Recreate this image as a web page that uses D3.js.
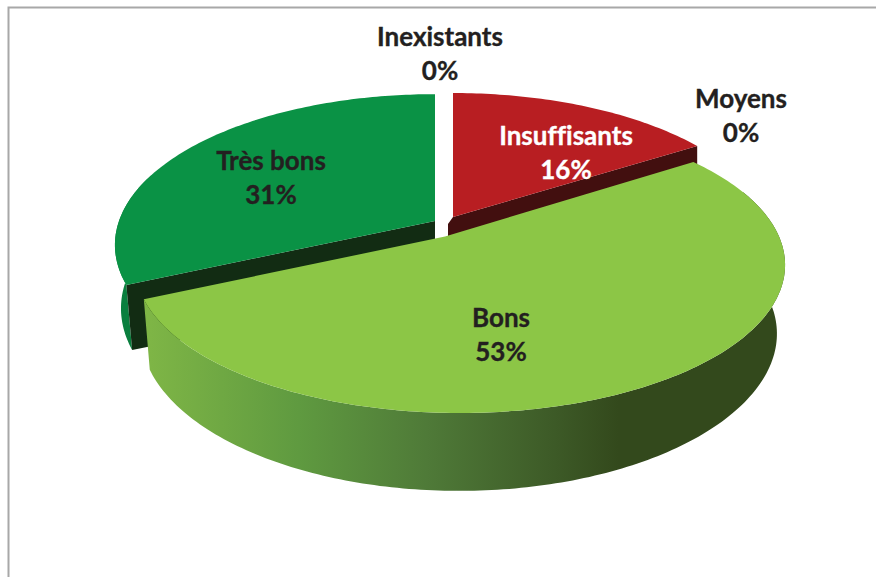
<!DOCTYPE html>
<html>
<head>
<meta charset="utf-8">
<script src="https://cdn.jsdelivr.net/npm/d3@7"></script>
<style>
html,body{margin:0;padding:0;background:#fff;overflow:hidden}
svg{display:block}
text{font-family:Lato,"Open Sans",sans-serif;font-weight:700;font-size:26px;text-anchor:middle;font-variant-ligatures:none;stroke-width:0.35px;paint-order:stroke}
</style>
</head>
<body>
<svg id="chart" width="876" height="577"></svg>
<script>
// Data
const categories = ["Insuffisants", "Moyens", "Bons", "Très bons", "Inexistants"];
const percentages = [16, 0, 53, 31, 0];

// Presentation (separate from the data)
const geometry = {
  "Insuffisants": {ax:453, ay:217,   cx:453, A:314, B:143.8, k:0.16,   warp:0,   D:60, top:"#b81e22", wall:"#420f0f", face:"#420f0f", apexDx:-5},
  "Bons":         {ax:445, ay:236.5, cx:460, A:319, B:142.5, k:0.1925, warp:3.5, D:73.5, top:"#8cc646", wall:"url(#wallGrad)", face:"none", apexDx:0},
  "Très bons":    {ax:435, ay:221,   cx:435, A:316, B:147,   k:0.159,  warp:3.5, D:68, top:"#0a9245", wall:"#0a7f3e", face:"#122c13", apexDx:0}
};
const drawOrder = ["Très bons", "Insuffisants", "Bons"];
const labelPos = {
  "Inexistants":  {x:440, y:46,  fill:"#231f20"},
  "Moyens":       {x:741, y:108, fill:"#231f20"},
  "Insuffisants": {x:566, y:145, fill:"#ffffff"},
  "Très bons":    {x:271, y:170, fill:"#231f20"},
  "Bons":         {x:501, y:327, fill:"#231f20"}
};
const lineGap = 34;

const svg = d3.select("#chart");

// Frame
svg.append("path").attr("d", "M8.5 577V7.5H876").attr("fill", "none")
   .attr("stroke", "#a8a8a8").attr("stroke-width", 2);

// Wall gradient
const grad = svg.append("defs").append("linearGradient").attr("id", "wallGrad")
  .attr("gradientUnits", "userSpaceOnUse").attr("x1", 145).attr("x2", 785).attr("y1", 0).attr("y2", 0);
[[0,"#7fb646"],[0.24,"#5f9a40"],[0.44,"#4f7a38"],[0.64,"#3d5a27"],[0.74,"#33491c"],[1,"#33491c"]]
  .forEach(([o,c]) => grad.append("stop").attr("offset", o).attr("stop-color", c));

const pie = d3.pie().sort(null).value((d, i) => percentages[i]);
const arcs = pie(categories);
const line = d3.line();

function rim(g, theta, lower) {
  const t = theta - g.warp * Math.PI / 180 * Math.sin(2 * theta);
  const u = Math.sin(t), v = Math.cos(t), w = 1 + g.k * v;
  const x = g.cx + (lower ? -1 + 0.978 * g.A * u / w : g.A * u / w);
  const y = g.ay - g.B * v / w + (lower ? g.D * (1 - 0.06 * v - 0.08 * u * u) : 0);
  return [x, y];
}
function samples(a, b) {
  const n = Math.ceil(Math.abs(b - a) / (Math.PI / 180));
  return d3.range(n + 1).map(i => a + (b - a) * i / n);
}

drawOrder.forEach(name => {
  const d = arcs[categories.indexOf(name)], g = geometry[name];
  const ts = samples(d.startAngle, d.endAngle);
  const front = ts.filter(t => Math.cos(t) < 0.3);
  const layer = svg.append("g").attr("class", "slice");

  // outer wall: one quad per step, so the tangent between both rings is filled too
  if (front.length) {
    const quads = d3.pairs(front).map(([a, b]) =>
      line([rim(g, a, false), rim(g, b, false), rim(g, b, true), rim(g, a, true)]) + "Z");
    layer.append("path").attr("d", quads.join("")).attr("fill", g.wall).attr("fill-rule", "nonzero");
  }

  // cut faces
  if (g.face !== "none") {
    const edge = name === "Insuffisants" ? d.endAngle : d.startAngle;
    const topCorner = rim(g, edge, false);
    const pts = [[g.ax, g.ay], topCorner, [topCorner[0], rim(g, edge, true)[1]],
                 [g.ax + g.apexDx, g.ay + g.D]];
    if (name === "Très bons") pts[2] = rim(g, edge, true);
    if (g.apexDx) pts.push([g.ax + g.apexDx, g.ay + 7]);
    layer.append("path").attr("d", line(pts) + "Z").attr("fill", g.face);
  }

  // top face
  layer.append("path")
    .attr("d", line([[g.ax, g.ay]].concat(ts.map(t => rim(g, t, false)))) + "Z")
    .attr("fill", g.top);
});

// Labels
const labels = svg.append("g").selectAll("text").data(arcs).join("text")
  .attr("x", d => labelPos[d.data].x)
  .attr("y", d => labelPos[d.data].y)
  .attr("fill", d => labelPos[d.data].fill)
  .attr("stroke", d => labelPos[d.data].fill);
labels.append("tspan").text(d => d.data);
labels.append("tspan").attr("x", d => labelPos[d.data].x).attr("dy", lineGap).text(d => d.value + "%");
</script>
</body>
</html>
